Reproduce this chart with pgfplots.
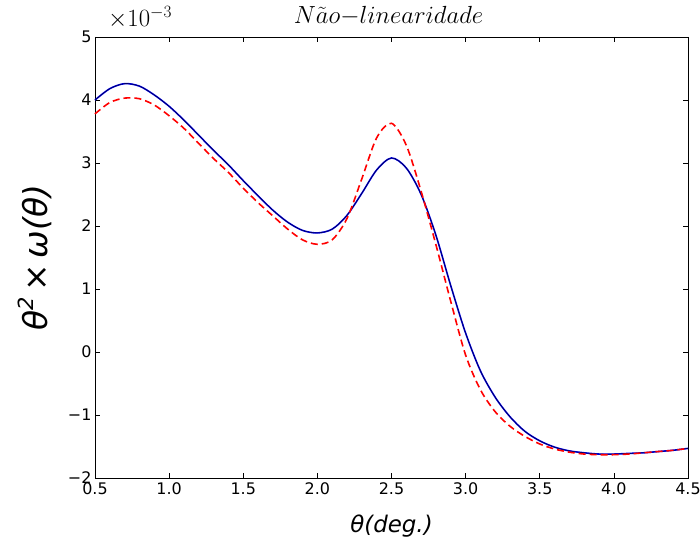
\documentclass[border=0pt]{standalone}
\usepackage{pgfplots}
\pgfplotsset{compat=1.18}
\usepackage{fontspec}
\newfontfamily\dejavu{DejaVu Sans}
\pgfplotstableread{
x y
0.50 4.00
0.60 4.18
0.70 4.26
0.80 4.22
0.90 4.08
1.00 3.90
1.10 3.68
1.20 3.44
1.30 3.20
1.40 2.97
1.50 2.72
1.60 2.48
1.70 2.25
1.80 2.06
1.90 1.93
2.00 1.89
2.10 1.95
2.20 2.17
2.30 2.52
2.40 2.89
2.50 3.08
2.60 2.92
2.70 2.50
2.80 1.85
2.90 1.05
3.00 0.30
3.10 -0.30
3.20 -0.72
3.30 -1.03
3.40 -1.26
3.50 -1.41
3.60 -1.51
3.70 -1.57
3.80 -1.60
3.90 -1.62
4.00 -1.62
4.10 -1.61
4.20 -1.60
4.30 -1.58
4.40 -1.56
4.50 -1.53
}\bluedata
\pgfplotstableread{
x y
0.50 3.78
0.60 3.96
0.70 4.03
0.80 4.02
0.90 3.92
1.00 3.75
1.10 3.55
1.20 3.31
1.30 3.07
1.40 2.85
1.50 2.60
1.60 2.37
1.70 2.16
1.80 1.95
1.90 1.78
2.00 1.71
2.10 1.78
2.20 2.12
2.30 2.75
2.40 3.40
2.50 3.63
2.60 3.28
2.70 2.55
2.80 1.70
2.90 0.80
3.00 -0.05
3.10 -0.60
3.20 -0.95
3.30 -1.18
3.40 -1.34
3.50 -1.46
3.60 -1.54
3.70 -1.59
3.80 -1.62
3.90 -1.63
4.00 -1.63
4.10 -1.62
4.20 -1.60
4.30 -1.58
4.40 -1.56
4.50 -1.53
}\reddata
\begin{document}
\begin{tikzpicture}
\useasboundingbox (0,0) rectangle (700bp,546bp);
\begin{axis}[
  at={(95bp,68bp)}, anchor=south west, scale only axis,
  width=593bp, height=441bp,
  xmin=0.5, xmax=4.5, ymin=-2, ymax=5,
  xtick={0.5,1,1.5,2,2.5,3,3.5,4,4.5},
  xticklabels={0.5,1.0,1.5,2.0,2.5,3.0,3.5,4.0,4.5},
  ytick={-2,-1,0,1,2,3,4,5},
  yticklabels={−2,−1,0,1,2,3,4,5},
  tick align=inside, tick pos=both,
  major tick length=5bp,
  tick style={black, line width=0.6pt},
  axis line style={black, line width=1pt},
  tick label style={font=\dejavu\fontsize{16}{18}\selectfont},
  xticklabel style={yshift=-1bp},
  xlabel={θ(deg.)},
  ylabel={θ\raisebox{0.75ex}{\fontsize{21}{23}\selectfont 2}\,{\upshape ×}\,ω(θ)},
  xlabel style={font=\dejavu\itshape\fontsize{23}{25}\selectfont, at={(axis description cs:0.5,-0.108)}, anchor=center},
  ylabel style={font=\dejavu\itshape\fontsize{33}{35}\selectfont, at={(axis description cs:-0.101,0.5)}, anchor=center},
  clip=false,
]
\addplot[blue, line width=1.6pt, smooth] table[x=x,y=y] {\bluedata};
\addplot[black, line width=0.8pt, opacity=0.6, smooth] table[x=x,y=y] {\bluedata};
\addplot[red, line width=1.6pt, dash pattern=on 7bp off 4bp, smooth] table[x=x,y=y] {\reddata};
\node[font=\fontsize{25}{27}\selectfont] at (rel axis cs:0.495,1.048) {$N\tilde{a}o{-}linearidade$};
\node[font=\fontsize{23}{25}\selectfont] at (rel axis cs:0.076,1.045) {$\times 10^{-3}$};
\end{axis}
\end{tikzpicture}
\end{document}
